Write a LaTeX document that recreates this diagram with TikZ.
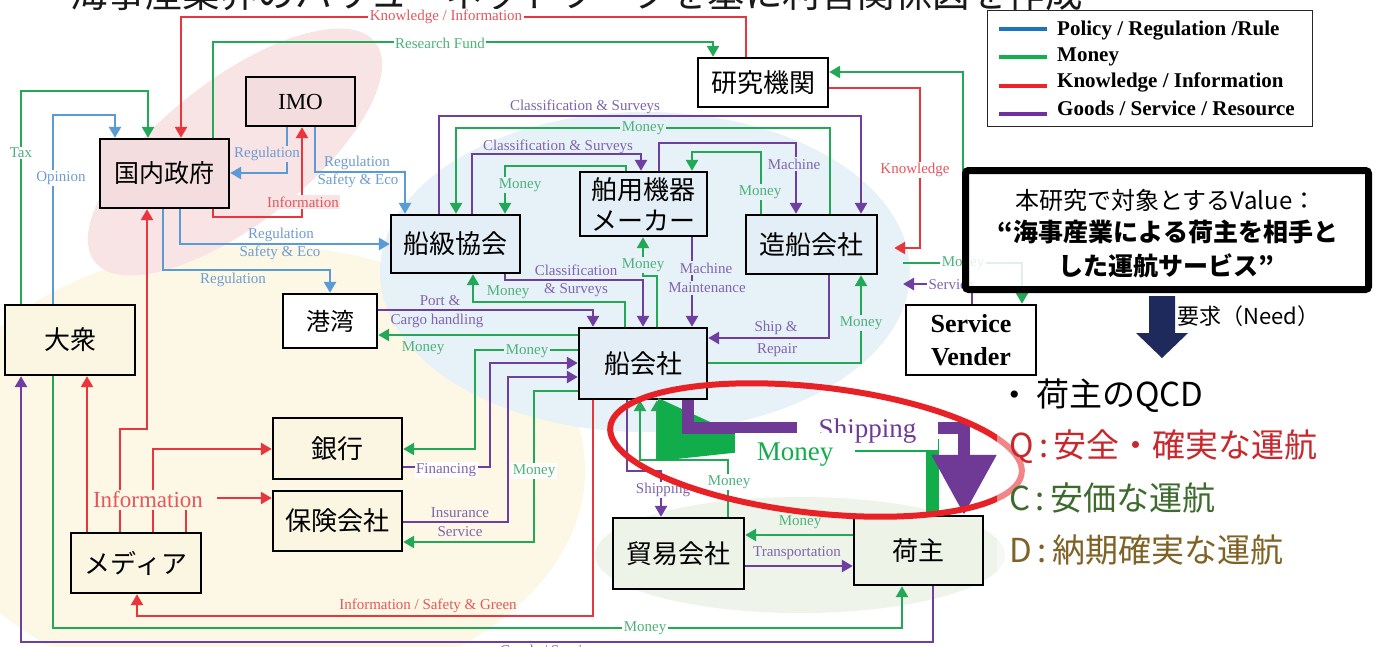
\documentclass[tikz,border=0pt]{standalone}
\usepackage{fontspec}
\setmainfont{Liberation Serif}
\newfontfamily\jp{Noto Sans CJK JP}
\usetikzlibrary{arrows.meta}
\definecolor{cB}{HTML}{5B9BD5}
\definecolor{cG}{HTML}{22A857}
\definecolor{cR}{HTML}{E8363C}
\definecolor{cP}{HTML}{6E3FA0}
\definecolor{lB}{HTML}{6F9CD2}
\definecolor{lG}{HTML}{4DB27A}
\definecolor{lR}{HTML}{E4575C}
\definecolor{lP}{HTML}{8064AE}
\definecolor{bgpink}{HTML}{F8E3E5}
\definecolor{bgblue}{HTML}{E6F1F8}
\definecolor{bgcream}{HTML}{FDF8E6}
\definecolor{bggreen}{HTML}{EEF4EA}
\definecolor{fpink}{HTML}{F3DDDE}
\definecolor{fblue}{HTML}{E3EEF6}
\definecolor{fcream}{HTML}{FBF6E2}
\definecolor{fgreen}{HTML}{EEF3E8}
\definecolor{navy}{HTML}{1F2A5C}
\definecolor{qred}{HTML}{C8282D}
\definecolor{cgreen}{HTML}{3D6B2E}
\definecolor{dbrown}{HTML}{7F6226}
\definecolor{ellred}{HTML}{E82127}
\definecolor{bigP}{HTML}{6E3A96}
\definecolor{bigG}{HTML}{12AD4B}
\definecolor{legB}{HTML}{1E73BE}
\definecolor{legG}{HTML}{12B04C}
\definecolor{legR}{HTML}{EE2228}
\definecolor{legP}{HTML}{7030A0}
\newcommand\lsz{\fontsize{15}{16}\selectfont}
\begin{document}
\begin{tikzpicture}[x=1pt,y=-1pt,
  nd/.style={draw=black, line width=2.4pt, inner sep=0pt, align=center, font=\jp\fontsize{26}{31}\selectfont},
  ln/.style={line width=2.6pt},
  ar/.style={-{Triangle[width=12pt,length=11pt]}},
  lb/.style={inner sep=1.5pt, font=\lsz},
  tx/.style={inner sep=0pt, anchor=west}]
\useasboundingbox (0,0) rectangle (1379,646);
\fill[white] (0,0) rectangle (1379,646);
% background blobs
\fill[bgcream] (255,470) ellipse [x radius=330, y radius=225];
\fill[bgpink, rotate around={38:(235,152)}] (235,152) ellipse [x radius=178, y radius=72];
\fill[bgblue] (645,272) ellipse [x radius=265, y radius=160];
\fill[bggreen] (800,555) ellipse [x radius=205, y radius=58];
% title (cut off at top)
\node[anchor=base west, inner sep=0pt, text=black!90, font=\jp\fontsize{37.5}{40}\selectfont] (title) at (70,7) {海事産業界のバリューネットワークを基に利害関係図を作成};
% nodes
\node[nd,fill=fpink,minimum width=109pt,minimum height=49pt,font=\fontsize{23}{26}\selectfont] (imo) at (300.5,101.5) {IMO};
\node[nd,fill=fpink,minimum width=129pt,minimum height=69pt,font=\jp\fontsize{25}{30}\selectfont] (gov) at (164.5,173.5) {国内政府};
\node[nd,fill=white,minimum width=130pt,minimum height=49pt] (lab) at (763,82.5) {研究機関};
\node[nd,fill=fblue,minimum width=129pt,minimum height=58pt] (cls) at (455.5,244) {船級協会};
\node[nd,fill=fblue,minimum width=127pt,minimum height=64pt] (mfr) at (643.5,204) {舶用機器\\メーカー};
\node[nd,fill=fblue,minimum width=131pt,minimum height=59pt] (yard) at (811.5,244.5) {造船会社};
\node[nd,fill=white,minimum width=94pt,minimum height=54pt,font=\jp\fontsize{24}{30}\selectfont] (port) at (330,321) {港湾};
\node[nd,fill=fcream,minimum width=130pt,minimum height=70pt] (pub) at (70,340) {大衆};
\node[nd,fill=fblue,minimum width=128pt,minimum height=71pt] (ship) at (643,363.5) {船会社};
\node[nd,fill=fcream,minimum width=129pt,minimum height=61pt] (bank) at (337.5,448.5) {銀行};
\node[nd,fill=fcream,minimum width=129pt,minimum height=60pt] (ins) at (337.5,521) {保険会社};
\node[nd,fill=fcream,minimum width=130pt,minimum height=60pt] (media) at (136,563) {メディア};
\node[nd,fill=fgreen,minimum width=131pt,minimum height=71pt] (trade) at (678.5,553.5) {貿易会社};
\node[nd,fill=fgreen,minimum width=129pt,minimum height=69pt] (shipper) at (918.5,550.5) {荷主};
\node[nd,fill=white,minimum width=130pt,minimum height=70pt,font=\bfseries\fontsize{26}{33}\selectfont] (sv) at (971,340) {Service\\Vender};
% blue connectors
\draw[ln,cB,ar] (imo.south -| 287,0) -- (287,173) -- (gov.east |- 0,173);
\draw[ln,cB,ar] (imo.south -| 315,0) -- (315,172) -- (405,172) -- (cls.north -| 405,0);
\draw[ln,cB,ar] (gov.south -| 180,0) -- (180,244) -- (cls.west |- 0,244);
\draw[ln,cB,ar] (gov.south -| 163,0) -- (163,270) -- (330,270) -- (port.north -| 330,0);
\draw[ln,cB,ar] (pub.north -| 53,0) -- (53,115) -- (115,115) -- (gov.north -| 115,0);
% green connectors
\draw[ln,cG,ar] (pub.north -| 21,0) -- (21,91) -- (148,91) -- (gov.north -| 148,0);
\draw[ln,cG,ar] (gov.north -| 213,0) -- (213,42) -- (713,42) -- (lab.north -| 713,0);
\coordinate (gsrc) at (963,210);
\draw[ln,cG,ar] (gsrc) -- (963,72) -- (lab.east |- 0,72);
\draw[ln,cG,ar] (yard.north -| 830,0) -- (830,128) -- (456,128) -- (cls.north -| 456,0);
\draw[ln,cG,ar] (mfr.north -| 626,0) -- (626,166) -- (505,166) -- (cls.north -| 505,0);
\draw[ln,cG,ar] (yard.north -| 761,0) -- (761,152) -- (692,152) -- (mfr.north -| 692,0);
\draw[ln,cG,ar] (ship.north -| 625,0) -- (625,302) -- (473,302) -- (cls.south -| 473,0);
\draw[ln,cG,ar] (ship.north -| 657,0) -- (657,276) -- (643,276) -- (mfr.south -| 643,0);
\draw[ln,cG,ar] (ship.west |- 0,335) -- (port.east |- 0,335);
\draw[ln,cG,ar] (ship.west |- 0,350) -- (475,350) -- (475,449) -- (bank.east |- 0,449);
\draw[ln,cG,ar] (ship.west |- 0,391) -- (534,391) -- (534,542) -- (ins.east |- 0,542);
\draw[ln,cG,ar] (ship.east |- 0,363) -- (861,363) -- (yard.south -| 861,0);
\draw[ln,cG,ar] (pub.south -| 53,0) -- (53,628) -- (902,628) -- (shipper.south -| 902,0);
\draw[ln,cG,ar] (shipper.west |- 0,535) -- (trade.east |- 0,535);
\draw[ln,cG,ar] (trade.north -| 728,0) -- (728,460) -- (640,460) -- (ship.south -| 640,0);
\coordinate (gj) at (657,460);
\draw[ln,cG,ar] (gj) -- (ship.south -| 657,0);
\coordinate (gsv) at (903,263);
\draw[ln,cG,ar] (gsv) -- (1022,263) -- (sv.north -| 1022,0);
% red connectors
\draw[ln,cR,ar] (lab.north -| 746,0) -- (746,17) -- (181,17) -- (gov.north -| 181,0);
\draw[ln,cR,ar] (gov.south -| 213,0) -- (213,217) -- (302,217) -- (imo.south -| 302,0);
\draw[ln,cR,ar,shorten >=16pt] (lab.east |- 0,88) -- (920,88) -- (920,248) -- (yard.east |- 0,248);
\draw[ln,cR,ar] (media.north -| 87,0) -- (pub.south -| 87,0);
\draw[ln,cR,ar] (media.north -| 120,0) -- (120,429) -- (147,429) -- (gov.south -| 147,0);
\draw[ln,cR,ar] (media.north -| 153,0) -- (153,449) -- (bank.west |- 0,449);
\draw[ln,cR] (media.north -| 186,0) -- (186,500);
\draw[ln,cR,ar] (ship.south -| 593,0) -- (593,616) -- (137,616) -- (media.south -| 137,0);
% purple connectors
\draw[ln,cP,ar] (cls.north -| 439,0) -- (439,116) -- (861,116) -- (yard.north -| 861,0);
\draw[ln,cP,ar] (cls.north -| 472,0) -- (472,154) -- (641,154) -- (mfr.north -| 641,0);
\draw[ln,cP,ar] (mfr.north -| 659,0) -- (659,143) -- (796,143) -- (yard.north -| 796,0);
\draw[ln,cP,ar] (cls.south -| 505,0) -- (505,280) -- (643,280) -- (ship.north -| 643,0);
\draw[ln,cP,ar] (mfr.south -| 692,0) -- (ship.north -| 692,0);
\draw[ln,cP,ar] (port.east |- 0,310) -- (593,310) -- (ship.north -| 593,0);
\draw[ln,cP,ar] (yard.south -| 829,0) -- (829,338) -- (ship.east |- 0,338);
\draw[ln,cP,ar] (bank.east |- 0,467) -- (490,467) -- (490,363) -- (ship.west |- 0,363);
\draw[ln,cP,ar] (ins.east |- 0,522) -- (508,522) -- (508,377) -- (ship.west |- 0,377);
\draw[ln,cP,ar] (ship.south -| 627,0) -- (627,471) -- (661,471) -- (trade.north -| 661,0);
\draw[ln,cP,ar] (trade.east |- 0,566) -- (shipper.west |- 0,566);
\draw[ln,cP,ar] (shipper.south -| 933,0) -- (933,642) -- (21,642) -- (pub.south -| 21,0);
\coordinate (psv) at (903,284);
\draw[ln,cP,ar] (sv.north -| 972,0) -- (972,284) -- (psv);
% labels blue
\node[lb,lB,fill=bgpink] (l1) at (267,154) {Regulation};
\node[lb,lB] (l2) at (357,163) {Regulation};
\node[lb,lB] (l3) at (358,181) {Safety \& Eco};
\node[lb,lB] (l4) at (281,235) {Regulation};
\node[lb,lB] (l5) at (280,253) {Safety \& Eco};
\node[lb,lB] (l6) at (233,280) {Regulation};
\node[lb,lB,fill=white] (l7) at (61,178) {Opinion};
% labels green
\node[lb,lG,fill=white] (l8) at (440,43) {Research Fund};
\node[lb,lG,fill=white] (l9) at (21,153) {Tax};
\node[lb,lG,fill=bgblue] (l10) at (643,128) {Money};
\node[lb,lG,fill=bgblue] (l11) at (520,185) {Money};
\node[lb,lG,fill=bgblue] (l12) at (760,192) {Money};
\node[lb,lG] (l13) at (508,292) {Money};
\node[lb,lG,fill=bgblue] (l14) at (643,265) {Money};
\node[lb,lG] (l15) at (423,348) {Money};
\node[lb,lG,fill=bgblue] (l16) at (527,351) {Money};
\node[lb,lG,fill=bgblue] (l17) at (861,323) {Money};
\node[lb,lG,fill=white] (l18) at (963,263) {Money};
\node[lb,lG,fill=white] (l19) at (534,471) {Money};
\node[lb,lG,fill=white] (l20) at (729,482) {Money};
\node[lb,lG] (l21) at (800,522) {Money};
\node[lb,lG,fill=white] (l22) at (645,628) {Money};
% labels red
\node[lb,lR,fill=white] (l23) at (446,17) {Knowledge / Information};
\node[lb,lR,fill=bgpink] (l24) at (303,202) {Information};
\node[lb,lR,fill=white] (l25) at (915,170) {Knowledge};
\node[lb,lR,fill=bgcream,font=\fontsize{23}{26}\selectfont] (inf) at (148,500) {Information};
\node[lb,lR] (l26) at (428,606) {Information / Safety \& Green};
\draw[ln,cR,ar,shorten <=12pt] (inf.east |- 0,498) -- (ins.west |- 0,498);
% labels purple
\node[lb,lP] (l27) at (585,107) {Classification \& Surveys};
\node[lb,lP] (l28) at (558,147) {Classification \& Surveys};
\node[lb,lP,fill=bgblue] (l29) at (794,164) {Machine};
\node[lb,lP] (l30) at (576,270) {Classification};
\node[lb,lP] (l31) at (576,290) {\& Surveys};
\node[lb,lP,fill=bgblue] (l32) at (706,268) {Machine};
\node[lb,lP,fill=bgblue] (l33) at (707,288) {Maintenance};
\node[lb,lP] (l34) at (440,301) {Port \&};
\node[lb,lP] (l35) at (437,321) {Cargo handling};
\node[lb,lP] (l36) at (776,328) {Ship \&};
\node[lb,lP] (l37) at (777,350) {Repair};
\node[lb,lP,fill=white] (l38) at (951,285) {Service};
\node[lb,lP,fill=white] (l39) at (446,470) {Financing};
\node[lb,lP] (l40) at (460,513) {Insurance};
\node[lb,lP] (l41) at (460,532) {Service};
\node[lb,lP,fill=white] (l42) at (663,490) {Shipping};
\node[lb,lP] (l43) at (797,553) {Transportation};
\node[lb,lP,fill=white] (l44) at (548,650) {Goods / Service};
% big highlighted flows
\draw[line width=13pt, bigG] (shipper.north -| 932,0) -- (932,445) -- (700,445);
\fill[bigG] (658,398) -- (658,461) -- (746,451.5) -- (746,438.5) -- cycle;
\draw[line width=12pt, bigP, -{Triangle[width=62pt,length=60pt]}] (ship.south -| 688,0) -- (688,427.5) -- (964,427.5) -- (shipper.north -| 964,0);
\node[fill=white, minimum width=141pt, minimum height=38pt, inner sep=0pt, text=bigP, font=\fontsize{27}{30}\selectfont] (shipL) at (867.5,431) {Shipping};
\node[fill=white, minimum width=120pt, minimum height=44pt, inner sep=0pt, text=bigG, font=\fontsize{27}{30}\selectfont] (moneyL) at (795,455) {Money};
\draw[ellred, line width=6pt, rotate around={-6.4:(816,450)}] (816,450) ellipse [x radius=207, y radius=63];
\fill[white, opacity=0.45] (997,385) rectangle (1379,600);
% legend
\node[draw=black!85, line width=1pt, minimum width=325pt, minimum height=116pt, inner sep=0pt] (leg) at (1149.5,68) {};
\draw[legB, line width=4pt] (999,29) -- (1047,29);
\draw[legG, line width=4pt] (999,57) -- (1047,57);
\draw[legR, line width=4pt] (999,86) -- (1047,86);
\draw[legP, line width=4pt] (999,114) -- (1047,114);
\node[tx, font=\bfseries\fontsize{21}{24}\selectfont] (lg1) at (1057,31) {Policy / Regulation /Rule};
\node[tx, font=\bfseries\fontsize{21}{24}\selectfont] (lg2) at (1057,57) {Money};
\node[tx, font=\bfseries\fontsize{21}{24}\selectfont] (lg3) at (1057,82) {Knowledge / Information};
\node[tx, font=\bfseries\fontsize{21}{24}\selectfont] (lg4) at (1057,108) {Goods / Service / Resource};
% value box
\node[draw=black, line width=7pt, fill=white, fill opacity=0.85, rounded corners=3pt, minimum width=403pt, minimum height=119pt, inner sep=0pt] (vbox) at (1167,230) {};
\node[inner sep=0pt, font=\jp\fontsize{24}{28}\selectfont] (v1) at (1166,200) {本研究で対象とするValue：};
\node[inner sep=0pt, font=\jp\bfseries\fontsize{25}{28}\selectfont] (v2) at (1168,232) {“海事産業による荷主を相手と};
\node[inner sep=0pt, font=\jp\bfseries\fontsize{25}{28}\selectfont] (v3) at (1166,266) {した運航サービス”};
% need arrow
\fill[navy] (1149,296) -- (1175,296) -- (1175,333) -- (1188,333) -- (1162,358) -- (1136,333) -- (1149,333) -- cycle;
\node[tx, font=\jp\fontsize{22}{26}\selectfont] (need) at (1177,316) {要求（Need）};
% QCD
\node[tx, font=\fontsize{30}{34}\selectfont] (bul) at (1009,398) {•};
\node[tx, font=\jp\fontsize{33}{36}\selectfont] (qcd0) at (1036,396) {荷主のQCD};
\node[tx, text=qred, font=\jp\fontsize{33}{36}\selectfont] (qcdq) at (1009,447) {Q\,:\,安全・確実な運航};
\node[tx, text=cgreen, font=\jp\fontsize{33}{36}\selectfont] (qcdc) at (1009,498) {C\,:\,安価な運航};
\node[tx, text=dbrown, font=\jp\fontsize{33}{36}\selectfont] (qcdd) at (1009,550) {D\,:\,納期確実な運航};
\end{tikzpicture}
\end{document}
